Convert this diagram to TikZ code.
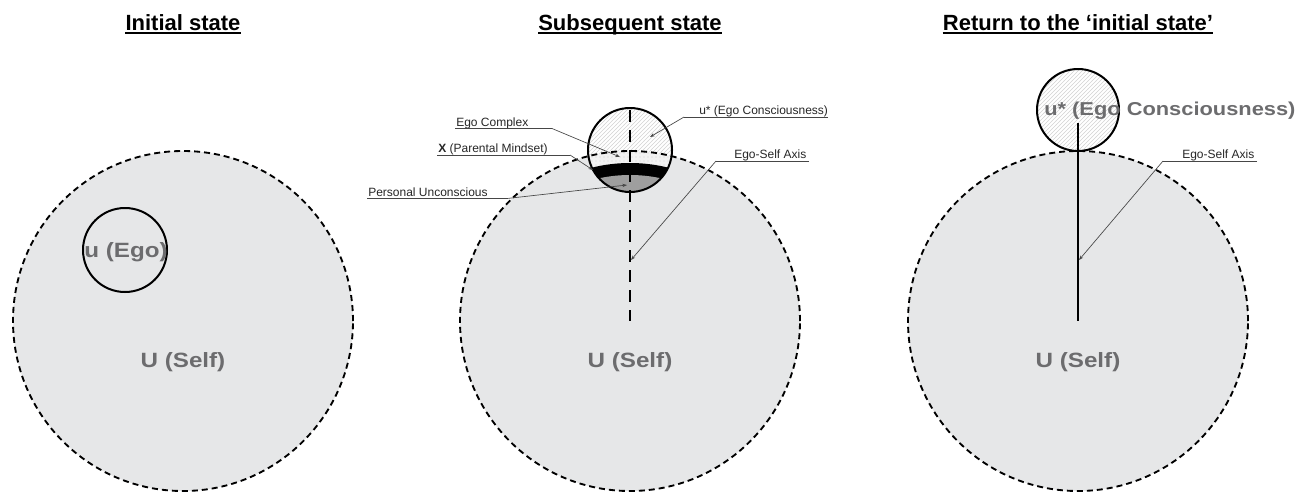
\documentclass[tikz,border=0pt]{standalone}
\usepackage{fontspec}
\setmainfont{Liberation Sans}
\newfontfamily\widesans{Liberation Sans}[FakeStretch=1.17]
\usetikzlibrary{patterns,arrows.meta}
\definecolor{selffill}{RGB}{230,231,232}
\definecolor{labelgray}{RGB}{108,108,110}
\definecolor{leadergray}{RGB}{70,70,70}
\definecolor{unconsc}{RGB}{158,158,158}
\definecolor{complexfill}{RGB}{242,242,242}
\begin{document}
\begin{tikzpicture}[x=0.75pt,y=-0.75pt,
  selfdisk/.style={fill=selffill},
  selfrim/.style={draw=black,line width=1.4pt,dash pattern=on 4.5pt off 3pt},
  egorim/.style={draw=black,line width=1.5pt},
  hatched/.style={pattern=north east lines,pattern color=gray!35},
  titletext/.style={font=\fontsize{16.5pt}{18pt}\selectfont\bfseries,inner sep=0pt,anchor=base},
  titlerule/.style={line width=1.8pt},
  biglabel/.style={font=\widesans\fontsize{15.5pt}{17pt}\selectfont\bfseries,text=labelgray,inner sep=0pt,anchor=base},
  smalllabel/.style={font=\fontsize{9pt}{10pt}\selectfont,text=black!85,inner sep=0pt,anchor=base west},
  leader/.style={draw=leadergray,line width=0.5pt},
  leaderarrow/.style={leader,-{Stealth[length=3.5pt,width=2.5pt]}},
  axisdashed/.style={line width=1.5pt,dash pattern=on 9pt off 6pt},
  axissolid/.style={line width=1.5pt},
]
\useasboundingbox (0,0) rectangle (1308,493);

% centres of the three Self circles and the ego circles
\coordinate (C1) at (183,321);
\coordinate (C2) at (630,321);
\coordinate (C3) at (1078,321);
\coordinate (E1) at (125,250);
\coordinate (E2) at (630,150);
\coordinate (E3) at (1078,110);

% ---------- titles ----------
\node[titletext] (t1) at (183,30) {Initial state};
\node[titletext] (t2) at (630,30) {Subsequent state};
\node[titletext] (t3) at (1078,30) {Return to the ‘initial state’};
\foreach \t in {t1,t2,t3}
  \draw[titlerule] ([yshift=-2.4pt]\t.base west) -- ([yshift=-2.4pt]\t.base east);

% ---------- initial state ----------
\fill[selfdisk] (C1) circle (127.5pt);
\draw[selfrim] (C1) circle (127.5pt);
\draw[egorim] (E1) circle (31.5pt);
\node[biglabel] (ego1) at (126,257) {u (Ego)};
\node[biglabel] (self1) at (183,367) {U (Self)};

% ---------- subsequent state ----------
\fill[selfdisk] (C2) circle (127.5pt);
\begin{scope}
  \clip (E2) circle (31.5pt);
  \fill[white] (E2) circle (31.5pt);
  \fill[hatched] (E2) circle (31.5pt);
  \fill[complexfill] (C2) circle (127.5pt);
  \fill[pattern=dots,pattern color=gray!35,even odd rule] (C2) circle (127.5pt) (C2) circle (118.5pt);
  \fill[black] (C2) circle (118.5pt);
  \fill[unconsc] (C2) circle (109.5pt);
\end{scope}
\draw[selfrim] (C2) circle (127.5pt);
\draw[egorim] (E2) circle (31.5pt);
\coordinate (A2) at (630,110);
\draw[axisdashed] (A2) -- (C2);
\node[biglabel] (self2) at (630,367) {U (Self)};

% labels with leaders
\node[smalllabel] (lcons) at (699,114.5) {u* (Ego Consciousness)};
\coordinate (lcons0) at (684,117);
\coordinate (lcons1) at (828,117);
\coordinate (lcons2) at (650,137);
\draw[leader] (lcons1) -- (lcons0);
\draw[leaderarrow] (lcons0) -- (lcons2);

\node[smalllabel] (lcomp) at (456,126) {Ego Complex};
\coordinate (lcomp0) at (455,128.5);
\coordinate (lcomp1) at (552,128.5);
\coordinate (lcomp2) at (620,157);
\draw[leader] (lcomp0) -- (lcomp1);
\draw[leaderarrow] (lcomp1) -- (lcomp2);

\node[smalllabel] (lpar) at (438,152.5) {\textbf{X} (Parental Mindset)};
\coordinate (lpar0) at (437,155);
\coordinate (lpar1) at (570,155);
\coordinate (lpar2) at (593,170);
\draw[leader] (lpar0) -- (lpar1);
\draw[leaderarrow] (lpar1) -- (lpar2);

\node[smalllabel] (lpu) at (368,196) {Personal Unconscious};
\coordinate (lpu0) at (367,198.5);
\coordinate (lpu1) at (507,198.5);
\coordinate (lpu2) at (627,185);
\draw[leader] (lpu0) -- (lpu1);
\draw[leaderarrow] (lpu1) -- (lpu2);

\node[smalllabel] (lax2) at (734,158.5) {Ego-Self Axis};
\coordinate (lax20) at (716,161);
\coordinate (lax21) at (809,161);
\coordinate (lax22) at (631,260);
\draw[leader] (lax21) -- (lax20);
\draw[leaderarrow] (lax20) -- (lax22);

% ---------- return to the initial state ----------
\fill[selfdisk] (C3) circle (127.5pt);
\draw[selfrim] (C3) circle (127.5pt);
\fill[white] (E3) circle (30.75pt);
\fill[hatched] (E3) circle (30.75pt);
\draw[egorim] (E3) circle (30.75pt);
\coordinate (A3) at (1078,123);
\draw[axissolid] (A3) -- (C3);
\node[biglabel,anchor=base west,font=\widesans\fontsize{14pt}{16pt}\selectfont\bfseries] (cons3) at (1044,115) {u* (Ego Consciousness)};
\node[biglabel] (self3) at (1078,367) {U (Self)};

\node[smalllabel] (lax3) at (1182,158.5) {Ego-Self Axis};
\coordinate (lax30) at (1163,161);
\coordinate (lax31) at (1257,161);
\coordinate (lax32) at (1079,260);
\draw[leader] (lax31) -- (lax30);
\draw[leaderarrow] (lax30) -- (lax32);
\end{tikzpicture}
\end{document}
